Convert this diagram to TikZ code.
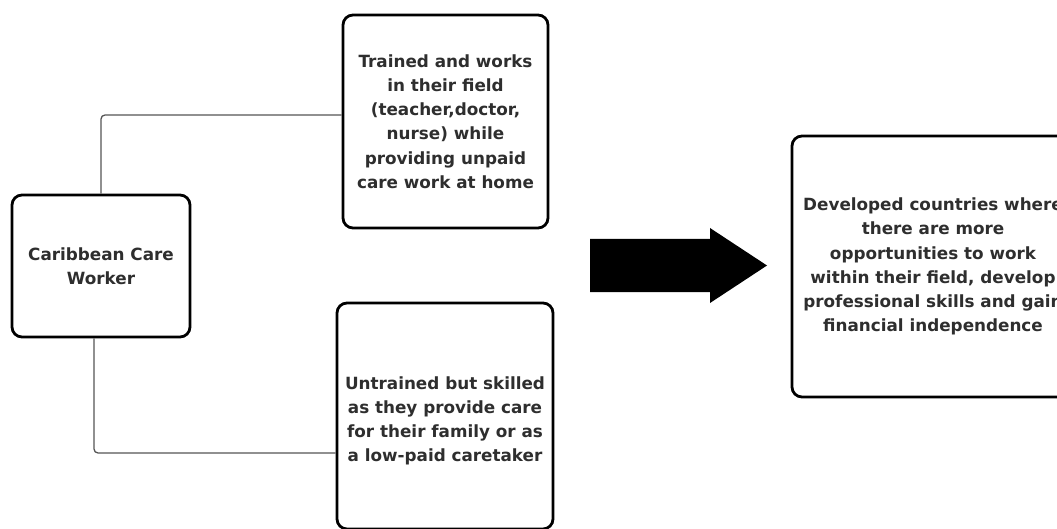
\documentclass[tikz,border=0pt]{standalone}
\usepackage{fontspec}
\setmainfont{DejaVu Sans}
\begin{document}
\begin{tikzpicture}[x=1pt,y=-1pt,
  txt/.style={align=center, text=inkgray, font=\fontsize{16.8}{24.2}\selectfont\bfseries},
  box/.style={txt, draw=black, line width=2.8pt, rounded corners=10pt, fill=white, inner sep=0pt},
  conn/.style={draw=linegray, line width=1.3pt, rounded corners=4pt}]
\definecolor{inkgray}{HTML}{2E2E2E}
\definecolor{linegray}{HTML}{555555}
\useasboundingbox (0,0) rectangle (1057,529);
\clip (0,0) rectangle (1057,529);

% source node
\node[box, minimum width=178pt, minimum height=142pt] (car) at (101,266)
  {Caribbean Care\\Worker};

% the two kinds of care worker
\node[box, minimum width=205pt, minimum height=213pt] (top) at (445.5,121.5)
  {Trained and works\\in their field\\(teacher,doctor,\\nurse) while\\providing unpaid\\care work at home};
\node[box, minimum width=216pt, minimum height=226pt,
      label={[txt, yshift=-5pt]center:Untrained but skilled\\as they provide care\\for their family or as\\a low-paid caretaker}] (bot) at (445,416) {};

% destination
\node[box, minimum width=282pt, minimum height=261pt] (dest) at (933,266.5)
  {Developed countries where\\there are more\\opportunities to work\\within their field, develop\\professional skills and gain\\financial independence};

% connectors
\draw[conn] (car.north) |- ([yshift=6.5pt]top.west);
\draw[conn] ([xshift=-7pt]car.south) |- ([yshift=-37pt]bot.west);

% block arrow
\fill[black] (590,239) -- (710,239) -- (710,228) -- (767,265.5) -- (710,303)
  -- (710,292) -- (590,292) -- cycle;
\end{tikzpicture}
\end{document}
